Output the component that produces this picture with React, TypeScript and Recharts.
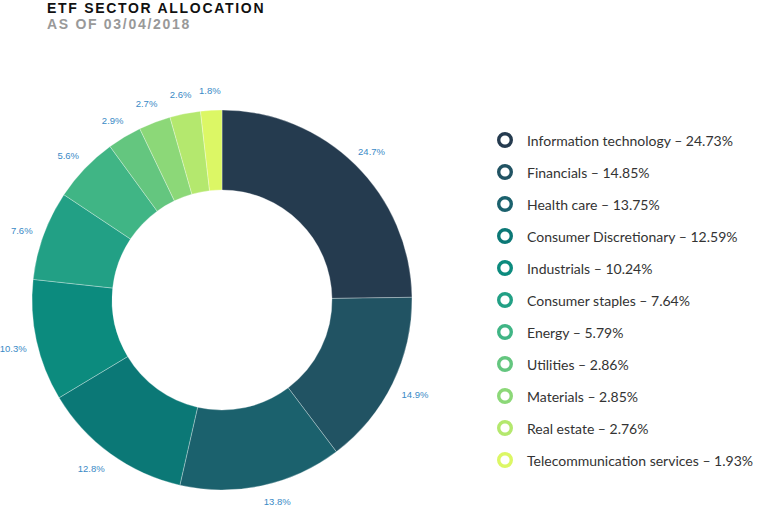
import { PieChart, Pie, Cell, Legend } from "recharts";

const sectors = [
  "Information technology",
  "Financials",
  "Health care",
  "Consumer Discretionary",
  "Industrials",
  "Consumer staples",
  "Energy",
  "Utilities",
  "Materials",
  "Real estate",
  "Telecommunication services",
];

// values drawn on the donut (its own labels)
const sliceValues = [24.7, 14.9, 13.8, 12.8, 10.3, 7.6, 5.6, 2.9, 2.7, 2.6, 1.8];

// values quoted in the legend
const legendValues = ["24.73", "14.85", "13.75", "12.59", "10.24", "7.64", "5.79", "2.86", "2.85", "2.76", "1.93"];

const COLORS = [
  "#253b4f",
  "#215363",
  "#1b616d",
  "#0b7876",
  "#0c8b7e",
  "#22a085",
  "#40b585",
  "#64c67f",
  "#8cd878",
  "#b4e86e",
  "#dcf765",
];

const data = sectors.map((name, i) => ({ name, value: sliceValues[i] }));

const RAD = Math.PI / 180;

// labels sit outside the ring; the lower ones are pushed sideways like the original
const renderLabel = (props: any) => {
  const { cx, cy, midAngle, outerRadius, index } = props;
  const s = Math.cos(-midAngle * RAD); // horizontal component
  const c = -Math.sin(-midAngle * RAD); // upward component
  const down = Math.max(0, -c);
  const r = outerRadius + 23 - 10 * down;
  const x = cx + r * s + 13 * Math.sign(s) * down;
  const y = cy - r * c + 3;
  return (
    <text
      x={x}
      y={y}
      fill="#3a8ac6"
      fontSize={9.5}
      fontFamily="'Liberation Sans', Arial, sans-serif"
      textAnchor="middle"
      dominantBaseline="central"
    >
      {sliceValues[index].toFixed(1)}%
    </text>
  );
};

const renderLegend = () => (
  <div>
    {sectors.map((name, i) => (
      <div
        key={name}
        style={{ display: "flex", alignItems: "center", height: 32 }}
      >
        <svg width={18} height={18} style={{ marginRight: 13 }}>
          <circle cx={9} cy={9} r={6.3} fill="#fff" stroke={COLORS[i]} strokeWidth={3.4} />
        </svg>
        <span style={{ fontFamily: "Lato, sans-serif", fontSize: 14, color: "#333" }}>
          {name} – {legendValues[i]}%
        </span>
      </div>
    ))}
  </div>
);

const titleStyle = {
  position: "absolute" as const,
  left: 47,
  fontFamily: "'Liberation Sans', Arial, sans-serif",
  fontWeight: 900,
  fontSize: 14,
  letterSpacing: 1.7,
  whiteSpace: "nowrap" as const,
};

export default function App() {
  return (
    <div style={{ position: "absolute", left: 0, top: 0, width: 762, height: 506, background: "#fff" }}>
      <div style={{ ...titleStyle, top: 0, color: "#111" }}>ETF SECTOR ALLOCATION</div>
      <div style={{ ...titleStyle, top: 15.5, color: "#999" }}>AS OF 03/04/2018</div>
      <PieChart width={762} height={506} margin={{ top: 0, right: 0, bottom: 0, left: 0 }}>
        <Pie
          data={data}
          dataKey="value"
          nameKey="name"
          cx={222}
          cy={300}
          innerRadius={110}
          outerRadius={190}
          startAngle={90}
          endAngle={-270}
          stroke="#ffffff"
          strokeOpacity={0.3}
          strokeWidth={1}
          label={renderLabel}
          labelLine={false}
          isAnimationActive={false}
        >
          {data.map((entry, index) => (
            <Cell key={`cell-${index}`} fill={COLORS[index % COLORS.length]} />
          ))}
        </Pie>
        <Legend
          content={renderLegend}
          layout="vertical"
          wrapperStyle={{ position: "absolute", left: 496, top: 124, width: 266 }}
        />
      </PieChart>
    </div>
  );
}
